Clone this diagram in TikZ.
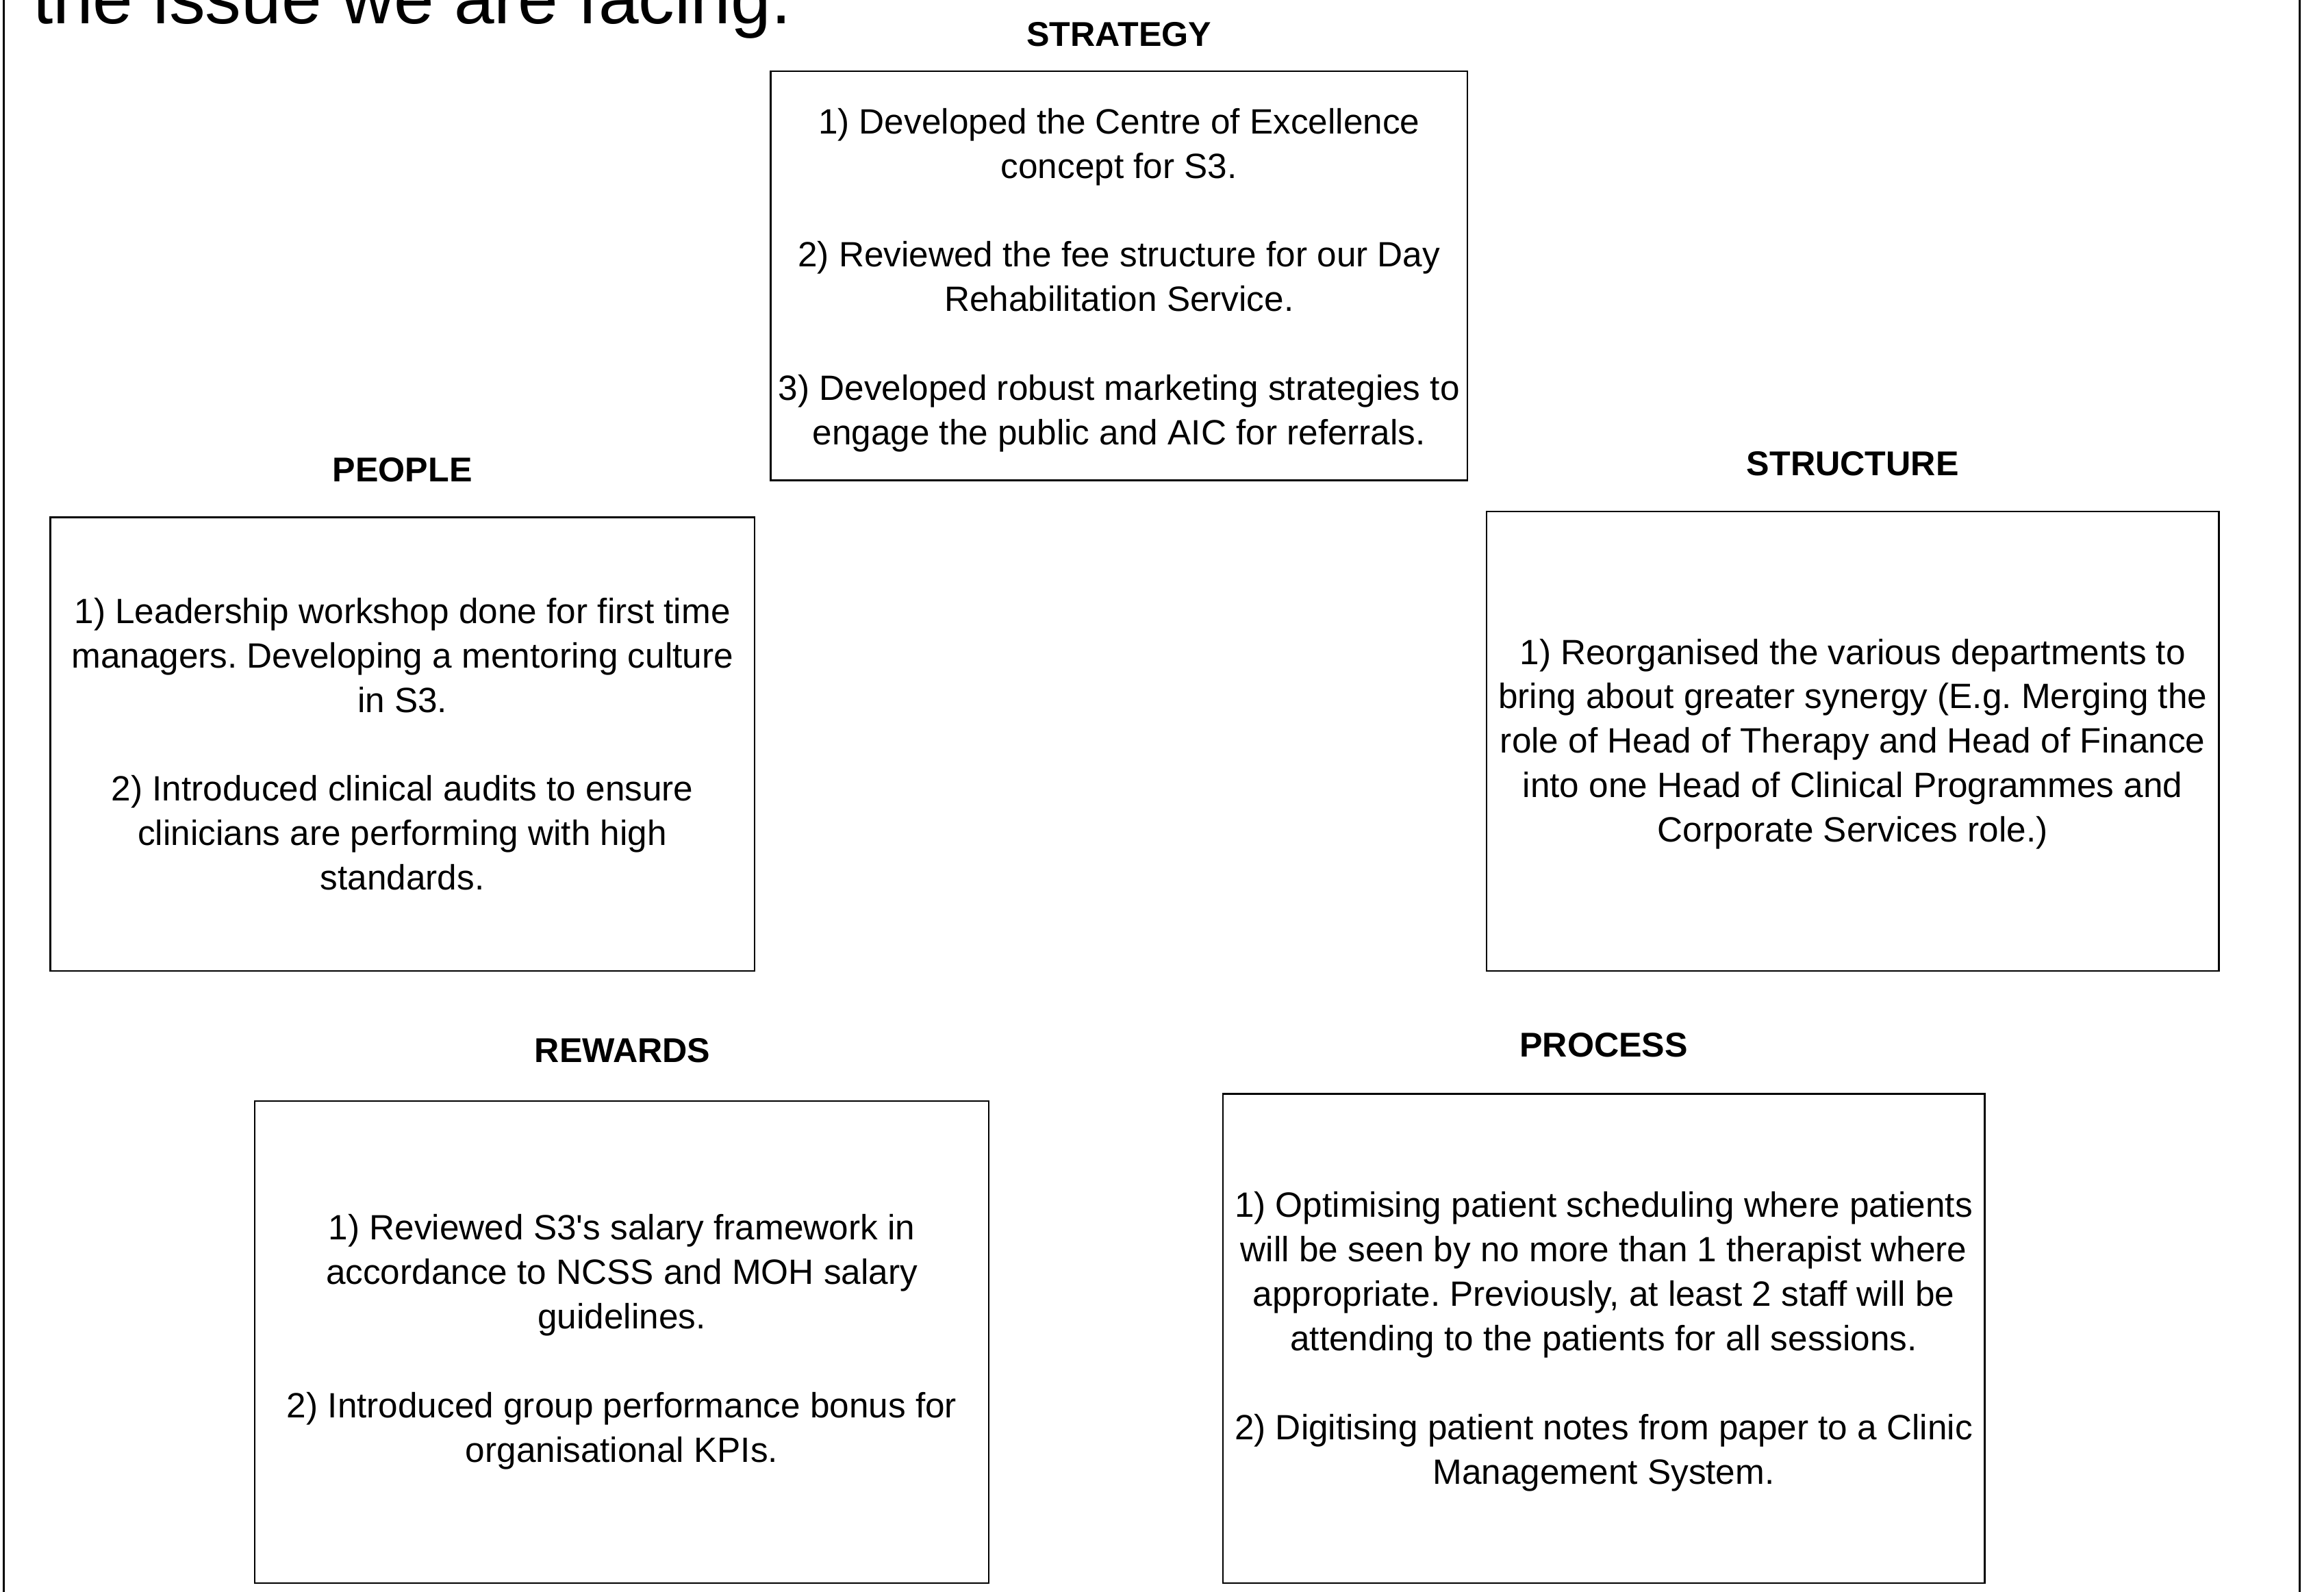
\documentclass[tikz,border=0pt]{standalone}
\usepackage{fontspec}
\setmainfont{Liberation Sans}
\frenchspacing

\begin{document}
\begin{tikzpicture}[
    x=1pt,
    y=-1pt,
    frame/.style={black, line width=1.2pt},
    box/.style={draw=black, line width=1.1pt, align=center, inner sep=0pt,
        font=\fontsize{23.7}{30}\selectfont},
    heading/.style={font=\fontsize{23.2}{28}\selectfont\bfseries, inner sep=0pt},
    slidetitle/.style={font=\fontsize{48.7}{58}\selectfont, inner sep=0pt,
        anchor=base west}
]

% -------------------------------------------------------------------------
% Page
% -------------------------------------------------------------------------
\def\pagew{1568}
\def\pageh{1074}

\useasboundingbox (0,0) rectangle (\pagew,\pageh);

% -------------------------------------------------------------------------
% Slide frame: only the two sides show
% -------------------------------------------------------------------------
\draw[ frame ] (2.5,0) -- (2.5,\pageh);
\draw[ frame ] (1551.5,0) -- (1551.5,\pageh);

% -------------------------------------------------------------------------
% Title (cut at the top edge)
% -------------------------------------------------------------------------
\node[ slidetitle ] (slide-title) at (22,16) {the issue we are facing.};

% -------------------------------------------------------------------------
% Strategy
% -------------------------------------------------------------------------
\node[ heading ] (strategy-label) at (755,23) {STRATEGY};
\node[ box, minimum width=470pt, minimum height=276pt ] (strategy)
    at (755,186) {};
\node[ box, draw=none ] (strategy-text) at (755,189) {%
    1) Developed the Centre of Excellence\\
    concept for S3.\\[30pt]
    2) Reviewed the fee structure for our Day\\
    Rehabilitation Service.\\[30pt]
    3) Developed robust marketing strategies to\\
    engage the public and AIC for referrals.};

% -------------------------------------------------------------------------
% People
% -------------------------------------------------------------------------
\node[ heading ] (people-label) at (271.5,317) {PEOPLE};
\node[ box, minimum width=475pt, minimum height=306pt ] (people)
    at (271.5,502) {%
    1) Leadership workshop done for first time\\
    managers. Developing a mentoring culture\\
    in S3.\\[30pt]
    2) Introduced clinical audits to ensure\\
    clinicians are performing with high\\
    standards.};

% -------------------------------------------------------------------------
% Structure
% -------------------------------------------------------------------------
\node[ heading ] (structure-label) at (1250,313) {STRUCTURE};
\node[ box, minimum width=494pt, minimum height=310pt ] (structure)
    at (1250,500) {};
\node[ box, draw=none ] (structure-text) at (1250,502) {%
    1) Reorganised the various departments to\\
    bring about greater synergy (E.g. Merging the\\
    role of Head of Therapy and Head of Finance\\
    into one Head of Clinical Programmes and\\
    Corporate Services role.)};

% -------------------------------------------------------------------------
% Rewards
% -------------------------------------------------------------------------
\node[ heading ] (rewards-label) at (420,709) {REWARDS};
\node[ box, minimum width=495pt, minimum height=325pt ] (rewards)
    at (419.5,905.5) {%
    1) Reviewed S3\textquotesingle s salary framework in\\
    accordance to NCSS and MOH salary\\
    guidelines.\\[30pt]
    2) Introduced group performance bonus for\\
    organisational KPIs.};

% -------------------------------------------------------------------------
% Process
% -------------------------------------------------------------------------
\node[ heading ] (process-label) at (1082,705) {PROCESS};
\node[ box, minimum width=514pt, minimum height=330pt ] (process)
    at (1082,903) {};
\node[ box, draw=none ] (process-text) at (1082,905) {%
    1) Optimising patient scheduling where patients\\
    will be seen by no more than 1 therapist where\\
    appropriate. Previously, at least 2 staff will be\\
    attending to the patients for all sessions.\\[30pt]
    2) Digitising patient notes from paper to a Clinic\\
    Management System.};

\end{tikzpicture}
\end{document}
